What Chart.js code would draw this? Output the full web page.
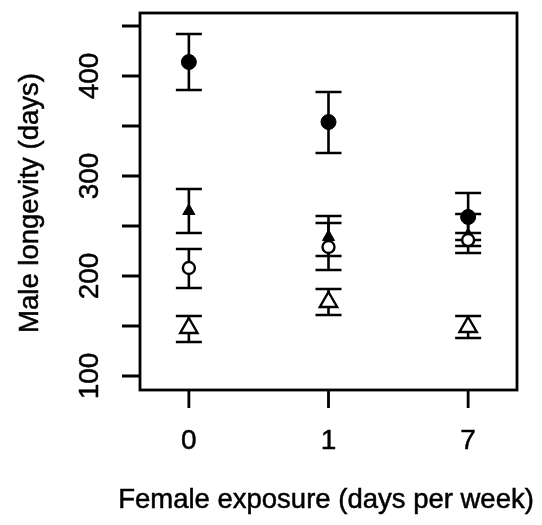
<!DOCTYPE html>
<html lang="en">
<head>
<meta charset="UTF-8"/>
<title>Male longevity</title>
<style>
  html, body { margin: 0; padding: 0; background: #fff; }
  #wrap { width: 542px; height: 525px; }
</style>
</head>
<body>
<div id="wrap"><canvas id="chart"></canvas></div>
<script src="https://cdn.jsdelivr.net/npm/chart.js"></script>
<script>
  // categories on the x axis
  const categories = ['0', '1', '7']
  const yTickValues = [100, 150, 200, 250, 300, 350, 400, 450]
  const yTickLabels = [100, 200, 300, 400]

  // filled circles
  const fcMean = [414, 354, 259]
  const fcUpper = [442, 384, 283]
  const fcLower = [386, 323, 236]
  // filled triangles
  const ftMean = [265, 239, 241]
  const ftUpper = [287, 260, 262]
  const ftLower = [243, 220, 223]
  // open circles
  const ocMean = [208, 229, 236]
  const ocUpper = [227, 253, 243]
  const ocLower = [188, 206, 230]
  // open triangles
  const otMean = [148, 174, 149]
  const otUpper = [160, 187, 160]
  const otLower = [134, 161, 138]

  const FONT = '"Liberation Sans", Arial, sans-serif'

  const series = [
    { mean: fcMean, hi: fcUpper, lo: fcLower, style: 'circle', r: 7.5, fill: '#000', bw: 1 },
    { mean: ocMean, hi: ocUpper, lo: ocLower, style: 'circle', r: 6, fill: '#fff', bw: 2.4 },
    { mean: ftMean, hi: ftUpper, lo: ftLower, style: 'triangle', r: 7, fill: '#000', bw: 1 },
    { mean: otMean, hi: otUpper, lo: otLower, style: 'triangle', r: 10, fill: '#fff', bw: 2.4 }
  ]

  const errorBars = {
    id: 'errorBars',
    beforeDatasetsDraw(chart) {
      const c = chart.ctx, x = chart.scales.x, y = chart.scales.y
      c.save()
      c.strokeStyle = '#000'
      c.lineWidth = 2.6
      series.forEach(s => {
        s.mean.forEach((m, i) => {
          const px = x.getPixelForValue(i)
          const top = y.getPixelForValue(s.hi[i]), bot = y.getPixelForValue(s.lo[i])
          c.beginPath()
          c.moveTo(px, top); c.lineTo(px, bot)
          c.moveTo(px - 13, top); c.lineTo(px + 13, top)
          c.moveTo(px - 13, bot); c.lineTo(px + 13, bot)
          c.stroke()
        })
      })
      c.restore()
    }
  }

  function text(c, s, x, y) {
    c.fillText(s, x, y)
    c.strokeText(s, x, y)
  }

  const rAxes = {
    id: 'rAxes',
    afterDraw(chart) {
      const c = chart.ctx, a = chart.chartArea, x = chart.scales.x, y = chart.scales.y
      c.save()
      c.strokeStyle = '#000'
      c.fillStyle = '#000'
      c.lineWidth = 2.8
      c.strokeRect(a.left, a.top, a.right - a.left, a.bottom - a.top)
      c.beginPath()
      yTickValues.forEach(v => {
        const py = y.getPixelForValue(v)
        c.moveTo(a.left - 18, py); c.lineTo(a.left, py)
      })
      categories.forEach((lab, i) => {
        const px = x.getPixelForValue(i)
        c.moveTo(px, a.bottom); c.lineTo(px, a.bottom + 18)
      })
      c.stroke()

      c.lineWidth = 0.5
      c.textAlign = 'center'
      c.textBaseline = 'alphabetic'
      c.font = '28px ' + FONT
      categories.forEach((lab, i) => {
        text(c, lab, x.getPixelForValue(i), 449)
      })
      yTickLabels.forEach(v => {
        c.save()
        c.translate(98, y.getPixelForValue(v))
        c.rotate(-Math.PI / 2)
        text(c, String(v), 0, 0)
        c.restore()
      })
      c.font = '27.5px ' + FONT
      text(c, 'Female exposure (days per week)', 326, 508)
      c.save()
      c.translate(38, 203)
      c.rotate(-Math.PI / 2)
      text(c, 'Male longevity (days)', 0, 0)
      c.restore()
      c.restore()
    }
  }

  new Chart(document.getElementById('chart'), {
    type: 'scatter',
    data: {
      datasets: series.map(s => ({
        data: s.mean.map((v, i) => ({ x: i, y: v })),
        pointStyle: s.style,
        pointRadius: s.r,
        pointHoverRadius: s.r,
        backgroundColor: s.fill,
        borderColor: '#000',
        borderWidth: s.bw
      }))
    },
    options: {
      responsive: true,
      maintainAspectRatio: false,
      animation: false,
      layout: { padding: { left: 140, right: 25, top: 13, bottom: 135 } },
      plugins: { legend: { display: false }, tooltip: { enabled: false } },
      scales: {
        x: { type: 'linear', min: -0.35, max: 2.35, display: false },
        y: { min: 86, max: 463, display: false }
      }
    },
    plugins: [errorBars, rAxes]
  })
</script>
</body>
</html>
